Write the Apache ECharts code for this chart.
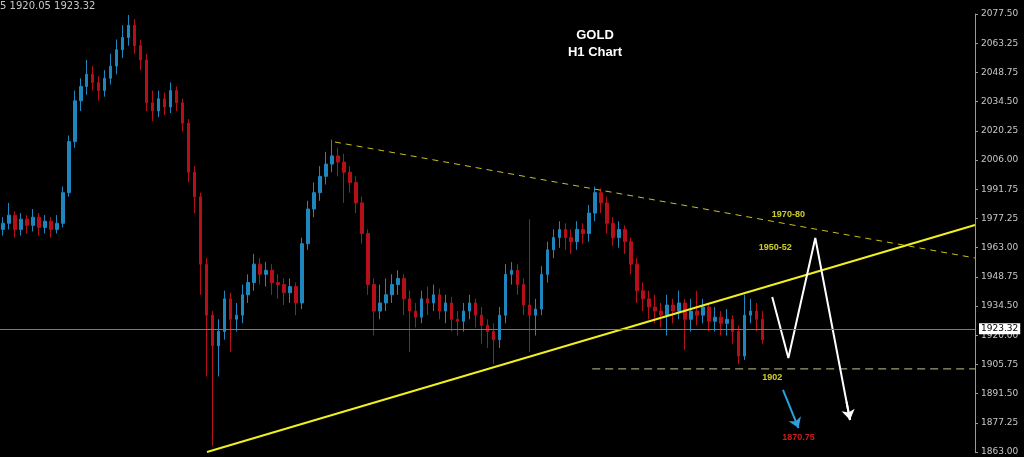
<!DOCTYPE html>
<html><head><meta charset="utf-8">
<script src="https://cdn.jsdelivr.net/npm/echarts@6/dist/echarts.min.js"></script>
<style>html,body{margin:0;background:#000}#c{width:1024px;height:457px}</style>
</head><body><div id="c"></div>
<script>
const firstOpen = 1972;
const closes = [1975,1979,1972,1977,1974,1978,1973,1976,1972,1975,
1990,2015,2035,2042,2048,2044,2040,2046,2052,2060,
2066,2072,2062,2055,2034,2030,2036,2032,2040,2034,
2024,2000,1988,1955,1930,1915,1922,1938,1928,1930,
1940,1946,1955,1950,1952,1946,1945,1941,1944,1936,
1965,1982,1990,1998,2004,2008,2005,2000,1995,1985,
1970,1945,1932,1936,1940,1945,1948,1938,1932,1929,
1938,1936,1940,1932,1936,1928,1927,1932,1936,1930,
1925,1922,1918,1930,1950,1952,1945,1935,1930,1933,
1950,1962,1968,1972,1968,1966,1972,1970,1980,1990,
1985,1975,1968,1972,1966,1955,1942,1938,1934,1932,
1930,1935,1932,1936,1928,1932,1930,1934,1927,1929,
1926,1928,1922,1910,1930,1932,1928,1918];
const highs = [1978,1985,1981,1980,1979,1982,1980,1979,1978,1979,
1993,2018,2040,2046,2055,2052,2047,2050,2058,2065,
2072,2077,2075,2065,2058,2040,2040,2039,2044,2042,
2036,2026,2003,1990,1958,1932,1928,1942,1941,1936,
1945,1950,1960,1958,1956,1955,1950,1948,1948,1946,
1968,1986,1995,2003,2010,2016,2012,2009,2003,1998,
1988,1972,1948,1945,1948,1950,1952,1950,1942,1936,
1942,1944,1945,1943,1940,1939,1932,1936,1940,1938,
1934,1928,1926,1934,1955,1956,1955,1948,1977,1938,
1954,1966,1972,1976,1975,1972,1976,1975,1984,1993,
1992,1988,1978,1976,1974,1968,1958,1946,1942,1940,
1936,1940,1938,1942,1938,1938,1942,1938,1936,1934,
1932,1933,1930,1925,1940,1938,1936,1932];
const lows = [1969,1972,1968,1969,1970,1971,1969,1970,1968,1970,
1973,1988,2012,2030,2038,2040,2035,2037,2043,2048,
2056,2062,2058,2050,2030,2025,2027,2028,2029,2030,
2020,1995,1980,1940,1900,1866,1900,1918,1912,1922,
1926,1936,1942,1945,1944,1940,1938,1935,1936,1930,
1933,1962,1978,1986,1994,2000,1998,1985,1990,1980,
1965,1940,1920,1928,1932,1936,1940,1930,1912,1924,
1926,1930,1932,1928,1926,1922,1920,1922,1928,1924,
1916,1914,1906,1914,1926,1945,1940,1930,1912,1920,
1930,1946,1958,1963,1962,1960,1962,1965,1966,1976,
1980,1970,1964,1963,1960,1950,1936,1932,1928,1926,
1924,1920,1926,1928,1913,1922,1925,1926,1922,1922,
1920,1920,1916,1906,1908,1926,1922,1916];
const tickLabels = ['1863.00','1877.25','1891.50','1905.75','1920.00','1934.50','1948.75','1963.00','1977.25','1991.75','2006.00','2020.25','2034.50','2048.75','2063.25','2077.50'];
const lastPrice = 1923.32;
const supportLevel = 1903.7;
const upperTrend = [[55.5,2014.8],[162.5,1958.0]];
const lowerTrend = [[34.1,1863],[162.5,1974.2]];
const projection = [[128.6,1938.9],[131.3,1909.0],[135.8,1967.8],[141.6,1878.7]];
const blueArrow = [[130.4,1893.4],[133.0,1874.7]];
const notes = [[131.3,1979.1,'1970-80','#ffff33'],[129.1,1962.9,'1950-52','#ffff33'],[128.6,1899.3,'1902','#ffff33'],[133.0,1869.9,'1870.75','#ff2020']];
const nCats = 163;

const cats = Array.from({length:nCats},(_,i)=>String(i));
const ohlc = closes.map((c,i)=>[i===0?firstOpen:closes[i-1], c, lows[i], highs[i]]);
const projLast = projection.length-1;

const chart = echarts.init(document.getElementById('c'));
chart.setOption({
  backgroundColor:'#000',
  animation:false,
  textStyle:{fontFamily:'DejaVu Sans'},
  title:{text:'GOLD',subtext:'H1 Chart',left:590,top:24,textAlign:'center',itemGap:4,
    textStyle:{color:'#fff',fontSize:13,fontWeight:'bold',fontFamily:'Liberation Sans'},
    subtextStyle:{color:'#fff',fontSize:13,fontWeight:'bold',fontFamily:'Liberation Sans'}},
  graphic:[{type:'text',left:0,top:1,style:{text:'5 1920.05 1923.32',fill:'#c8c8c8',font:'10px DejaVu Sans'}}],
  grid:{left:0,right:49,top:14,bottom:5},
  xAxis:[{type:'category',data:cats,boundaryGap:true,show:false},
         {type:'value',min:-0.5,max:162.5,show:false}],
  yAxis:{type:'value',position:'right',min:1863,max:2077.5,interval:14.3,
    axisLine:{show:true,onZero:false,lineStyle:{color:'#9a9a9a'}},
    axisTick:{show:true,length:3,lineStyle:{color:'#9a9a9a'}},
    splitLine:{show:false},
    axisLabel:{color:'#c8c8c8',fontSize:9,margin:6,formatter:(v,i)=>tickLabels[i]}},
  series:[
    {type:'candlestick',data:ohlc,barWidth:3,
      itemStyle:{color:'#1f86bd',color0:'#b3101a',borderColor:'#1f86bd',borderColor0:'#b3101a',borderWidth:1},
      markLine:{silent:true,symbol:'none',animation:false,
        data:[{yAxis:lastPrice,lineStyle:{color:'#6e7c8c',width:1,type:'solid'},
          label:{show:true,position:'end',formatter:'1923.32',color:'#000',backgroundColor:'#fff',fontSize:9,padding:[1,2],distance:4}}]}},
    {type:'line',xAxisIndex:1,data:upperTrend,symbol:'none',lineStyle:{color:'#c8c020',width:1,type:[6,5]}},
    {type:'line',xAxisIndex:1,data:lowerTrend,symbol:'none',lineStyle:{color:'#f0f020',width:2}},
    {type:'line',xAxisIndex:1,data:[[98.5,supportLevel],[162.5,supportLevel]],symbol:'none',lineStyle:{color:'#c8c090',width:1,type:[8,5]}},
    {type:'line',xAxisIndex:1,data:projection,symbol:'none',lineStyle:{color:'#fff',width:2}},
    {type:'lines',xAxisIndex:1,coordinateSystem:'cartesian2d',symbol:['none','arrow'],symbolSize:10,
      data:[{coords:[projection[projLast-1].map((v,k)=>k===0?v+(projection[projLast][0]-v)*0.9:v+(projection[projLast][1]-v)*0.9),projection[projLast]],lineStyle:{color:'#fff'}},
            {coords:blueArrow,lineStyle:{color:'#2aa0dc'}}],
      lineStyle:{width:2,opacity:1}},
    {type:'scatter',xAxisIndex:1,symbolSize:0,data:notes.map(n=>({value:[n[0],n[1]],label:{color:n[3]}})),
      label:{show:true,position:'inside',fontSize:9,fontWeight:'bold',fontFamily:'Liberation Sans',
        formatter:p=>notes[p.dataIndex][2]}}
  ]
});
</script></body></html>
